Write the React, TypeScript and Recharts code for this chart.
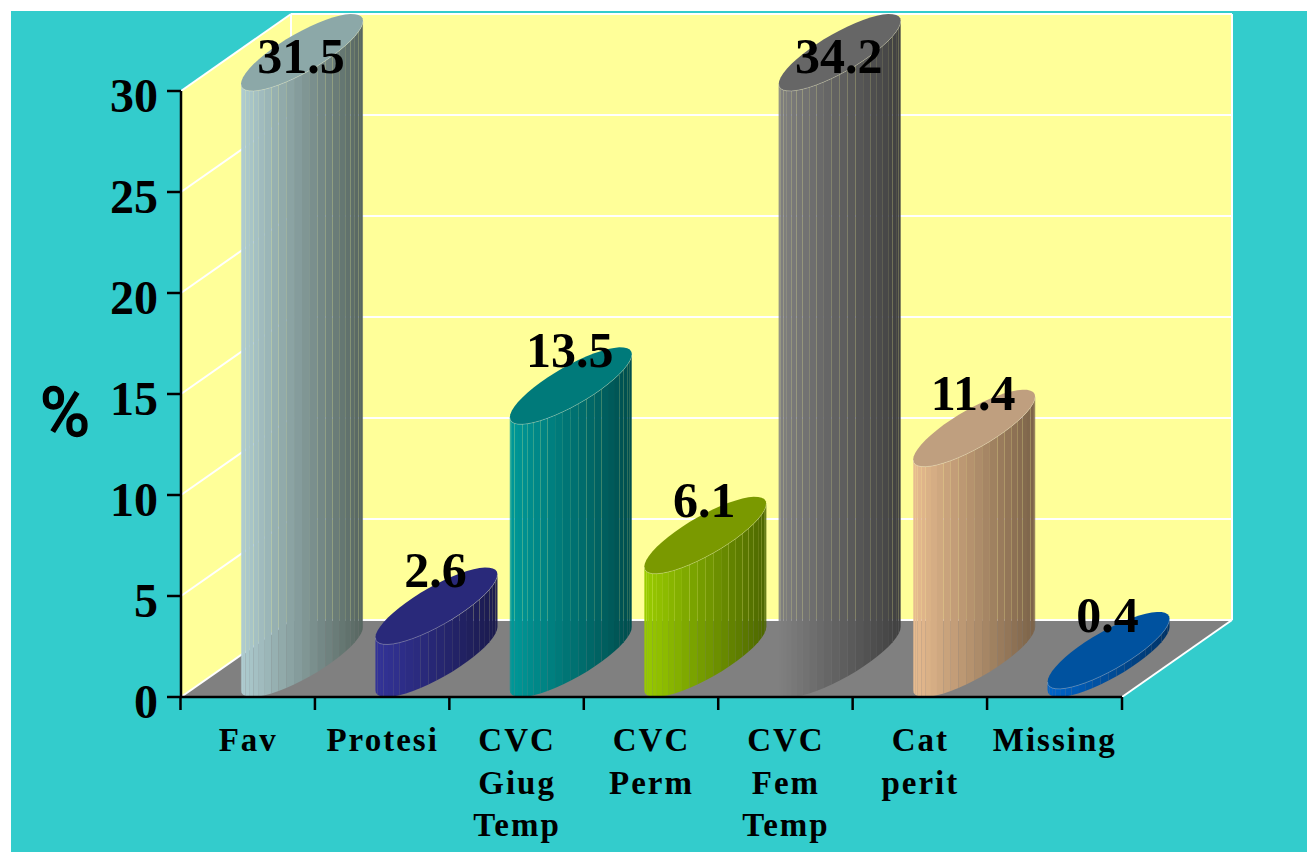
import { BarChart, Bar, XAxis, YAxis, CartesianGrid, LabelList } from 'recharts';

const CATEGORIES = ['Fav', 'Protesi', 'CVC Giug Temp', 'CVC Perm', 'CVC Fem Temp', 'Cat perit', 'Missing'];
const VALUES = [31.5, 2.6, 13.5, 6.1, 34.2, 11.4, 0.4];
const Y_TICKS = [0, 5, 10, 15, 20, 25, 30];
const Y_MAX = 30;

const LEFT_SHADES = ['#AFCDD1', '#333399', '#009999', '#99CC00', '#808080', '#E8BC90', '#0066CC'];
const RIGHT_SHADES = ['#56655F', '#1A1A4C', '#004D4D', '#4D6600', '#404040', '#7A6248', '#003366'];
const TOP_SHADES = ['#8CA8A8', '#29297A', '#007A7A', '#7A9900', '#666666', '#BF9F7F', '#00529F'];

const data = CATEGORIES.map((name, i) => ({ name, value: VALUES[i] }));

const SERIF = '"Liberation Serif", serif';
const PLOT = { left: 181, top: 91, right: 1122, bottom: 697 };
const DEPTH_X = 110;
const DEPTH_Y = 77;
const FACETS = 24;
const BAND = (PLOT.right - PLOT.left) / CATEGORIES.length;

function mix(a: string, b: string, f: number) {
  const ch = (s: string, i: number) => parseInt(s.slice(1 + i * 2, 3 + i * 2), 16);
  const out = [0, 1, 2].map((i) => Math.round(ch(a, i) + (ch(b, i) - ch(a, i)) * f));
  return `rgb(${out[0]},${out[1]},${out[2]})`;
}

// ellipse foot of the column: sheared by the floor depth
function rim(cx: number, cy: number, w: number, t: number): [number, number] {
  return [cx + (w / 2) * Math.cos(t) + 50 * Math.sin(t), cy - (DEPTH_Y / 2) * Math.sin(t)];
}

function Cylinder(props: any) {
  const { x, y, width, height, index } = props;
  const top = y;
  const bottom = y + height;
  const cx = x + width / 2 + 54;
  const start = Math.atan2(50, width / 2) + Math.PI;
  const front: [number, number][] = [];
  for (let i = 0; i <= FACETS; i++) {
    front.push(rim(cx, -DEPTH_Y / 2, width, start + (i / FACETS) * Math.PI));
  }
  const xl = front[0][0];
  const xr = front[FACETS][0];
  const strips = [];
  for (let i = 0; i < FACETS; i++) {
    const [x0, y0] = front[i];
    const [x1, y1] = front[i + 1];
    const f = ((x0 + x1) / 2 - xl) / (xr - xl);
    strips.push(
      <polygon
        key={i}
        points={`${x0},${top + y0} ${x1},${top + y1} ${x1},${bottom + y1} ${x0},${bottom + y0}`}
        fill={mix(LEFT_SHADES[index], RIGHT_SHADES[index], f)}
      />,
    );
  }
  const lid = [];
  for (let i = 0; i < FACETS * 2; i++) {
    const [px, py] = rim(cx, -DEPTH_Y / 2, width, start + (i / FACETS) * Math.PI);
    lid.push(`${px},${top + py}`);
  }
  return (
    <g>
      {strips}
      <polygon points={lid.join(' ')} fill={TOP_SHADES[index]} />
      <polyline
        points={front.map(([px, py]) => `${px},${top + py}`).join(' ')}
        fill="none"
        stroke="#fff"
        strokeOpacity={0.25}
      />
    </g>
  );
}

// the box behind the plot, side wall + back wall + floor
function Walls() {
  const { left, top, right, bottom } = PLOT;
  return (
    <svg width={1307} height={852} style={{ position: 'absolute', left: 0, top: 0 }}>
      <polygon
        points={`${left},${top} ${left + DEPTH_X},${top - DEPTH_Y} ${left + DEPTH_X},${bottom - DEPTH_Y} ${left},${bottom}`}
        fill="#FFFF99"
      />
      <rect x={left + DEPTH_X} y={top - DEPTH_Y} width={right - left} height={bottom - top} fill="#FFFF99" />
      <polygon
        points={`${left},${bottom} ${left + DEPTH_X},${bottom - DEPTH_Y} ${right + DEPTH_X},${bottom - DEPTH_Y} ${right},${bottom}`}
        fill="#808080"
      />
      <line x1={left + DEPTH_X} y1={top - DEPTH_Y} x2={left + DEPTH_X} y2={bottom - DEPTH_Y} stroke="#fff" strokeWidth={2} />
      <line x1={right + DEPTH_X} y1={top - DEPTH_Y} x2={right + DEPTH_X} y2={bottom - DEPTH_Y} stroke="#fff" strokeWidth={2} />
      <line x1={right} y1={bottom} x2={right + DEPTH_X} y2={bottom - DEPTH_Y} stroke="#fff" strokeWidth={2} />
    </svg>
  );
}

function WallLine(props: any) {
  const { x1, y1, x2, y2 } = props;
  return (
    <g stroke="#fff" strokeWidth={2}>
      <line x1={x1} y1={y1} x2={x1 + DEPTH_X} y2={y1 - DEPTH_Y} />
      <line x1={x1 + DEPTH_X} y1={y1 - DEPTH_Y} x2={x2 + DEPTH_X} y2={y2 - DEPTH_Y} />
    </g>
  );
}

function YTick({ x, y, payload }: any) {
  return (
    <text x={x + 1} y={y + 21} textAnchor="end" fontFamily={SERIF} fontWeight="bold" fontSize={48} fill="#000">
      {payload.value}
    </text>
  );
}

// tick marks sit between the categories, not under them
function XTick({ x, y, payload, index }: any) {
  const words = String(payload.value).split(' ');
  const lineTop = PLOT.bottom;
  return (
    <g>
      <line x1={x - BAND / 2 - 0.5} y1={lineTop} x2={x - BAND / 2 - 0.5} y2={lineTop + 13} stroke="#000" strokeWidth={2.5} />
      {index === CATEGORIES.length - 1 && (
        <line x1={x + BAND / 2} y1={lineTop} x2={x + BAND / 2} y2={lineTop + 13} stroke="#000" strokeWidth={2.5} />
      )}
      <text textAnchor="middle" fontFamily={SERIF} fontWeight="bold" fontSize={33} letterSpacing={2} fill="#000">
        {words.map((w, i) => (
          <tspan key={w} x={x} y={y + 39 + i * 42.5}>
            {w}
          </tspan>
        ))}
      </text>
    </g>
  );
}

function ValueLabel({ x, y, width, value }: any) {
  return (
    <text
      x={x + width / 2 + 53}
      y={Math.max(73, y - 57)}
      textAnchor="middle"
      fontFamily={SERIF}
      fontWeight="bold"
      fontSize={50}
      fill="#000"
    >
      {value}
    </text>
  );
}

export default function App() {
  return (
    <div style={{ position: 'absolute', left: 0, top: 0, width: 1307, height: 852, background: '#fff', overflow: 'hidden' }}>
      <div style={{ position: 'absolute', left: 11, top: 11, right: 0, bottom: 0, background: '#33CCCC' }} />
      <Walls />
      <div style={{ position: 'absolute', left: 0, top: 0 }}>
        <BarChart
          width={1307}
          height={852}
          data={data}
          barSize={70}
          margin={{ top: PLOT.top, right: 1307 - PLOT.right, left: 0, bottom: 0 }}
        >
          <CartesianGrid vertical={false} horizontal={(p: any) => <WallLine key={p.index} {...p} />} />
          <XAxis
            dataKey="name"
            interval={0}
            height={852 - PLOT.bottom}
            tickSize={13}
            axisLine={{ stroke: '#000', strokeWidth: 2.5 }}
            tickLine={false}
            tick={<XTick />}
          />
          <YAxis
            width={PLOT.left}
            domain={[0, Y_MAX]}
            ticks={Y_TICKS}
            tickSize={14}
            tickMargin={10}
            axisLine={{ stroke: '#000', strokeWidth: 2.5 }}
            tickLine={{ stroke: '#000', strokeWidth: 2.5 }}
            tick={<YTick />}
            label={{
              value: '%',
              content: () => (
                <text x={65} y={436} textAnchor="middle" fontFamily="Roboto" fontSize={68} fill="#000" stroke="#000" strokeWidth={1.5}>
                  %
                </text>
              ),
            }}
          />
          {/* columns over the axis max are cut at the top, the label keeps the real value */}
          <Bar dataKey={(d: any) => Math.min(d.value, Y_MAX)} isAnimationActive={false} shape={<Cylinder />}>
            <LabelList dataKey="value" content={<ValueLabel />} />
          </Bar>
        </BarChart>
      </div>
    </div>
  );
}
